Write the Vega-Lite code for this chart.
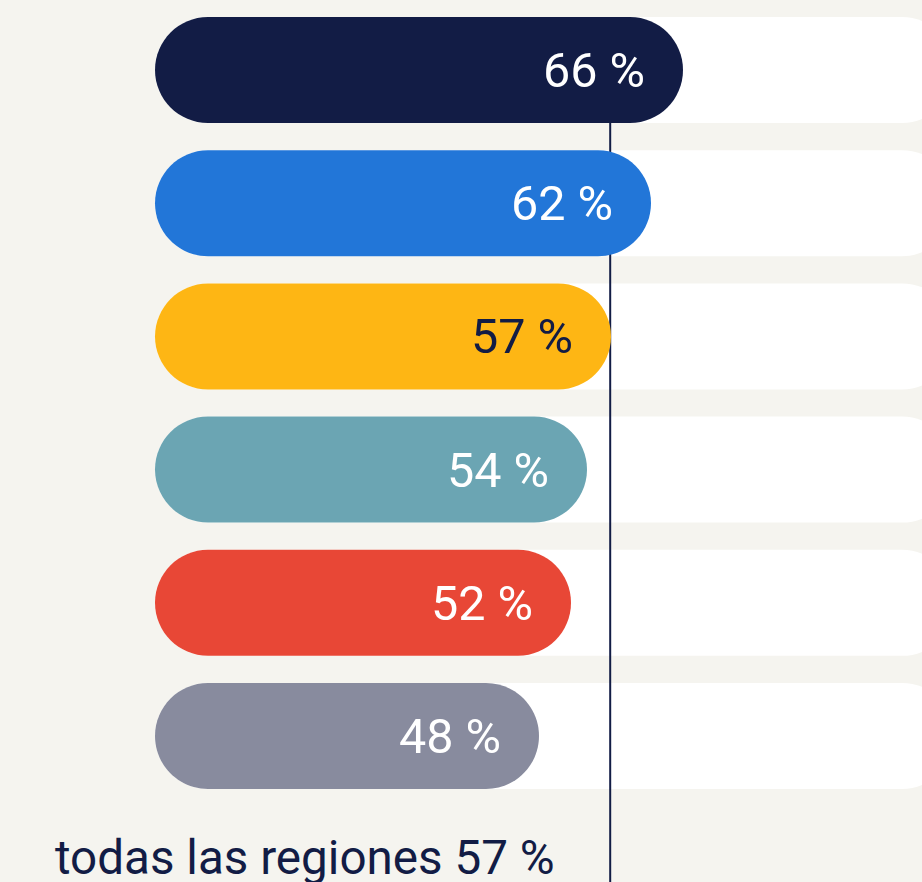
{
  "$schema": "https://vega.github.io/schema/vega-lite/v6.json",
  "width": 767,
  "height": 882,
  "autosize": {"type": "none"},
  "padding": {"left": 155, "top": 0, "right": 0, "bottom": 0},
  "background": "#f5f4ef",
  "config": {"view": {"stroke": null}},
  "title": {
    "text": "todas las regiones 57 %",
    "orient": "bottom",
    "anchor": "start",
    "frame": "group",
    "dx": -100,
    "offset": -9,
    "baseline": "alphabetic",
    "font": "Roboto",
    "fontSize": 47.6,
    "fontWeight": 400,
    "color": "#121c45"
  },
  "datasets": {
    "regiones": [
      {"region": "A", "valor": 66, "etiqueta": "66 %", "maximo": 100},
      {"region": "B", "valor": 62, "etiqueta": "62 %", "maximo": 100},
      {"region": "C", "valor": 57, "etiqueta": "57 %", "maximo": 100},
      {"region": "D", "valor": 54, "etiqueta": "54 %", "maximo": 100},
      {"region": "E", "valor": 52, "etiqueta": "52 %", "maximo": 100},
      {"region": "F", "valor": 48, "etiqueta": "48 %", "maximo": 100}
    ],
    "promedio": [{"valor": 56.9, "region": "A"}]
  },
  "data": {"name": "regiones"},
  "layer": [
    {
      "mark": {"type": "bar", "color": "#ffffff", "cornerRadius": 53, "clip": true},
      "encoding": {
        "y": {
          "field": "region",
          "type": "nominal",
          "sort": null,
          "axis": null,
          "scale": {"domain": ["A", "B", "C", "D", "E", "F"], "paddingInner": 0.204, "paddingOuter": 0.413, "align": 0.1545}
        },
        "x": {"field": "maximo", "type": "quantitative", "stack": null, "scale": {"domain": [0, 95.875], "zero": false, "nice": false}, "axis": null}
      }
    },
    {
      "data": {"name": "promedio"},
      "mark": {"type": "rule", "color": "#121c45", "strokeWidth": 2},
      "encoding": {
        "x": {"field": "valor", "type": "quantitative"},
        "y": {"field": "region", "type": "nominal", "bandPosition": 0},
        "y2": {"value": {"expr": "height"}}
      }
    },
    {
      "mark": {"type": "bar", "cornerRadius": 53},
      "encoding": {
        "y": {"field": "region", "type": "nominal"},
        "x": {"field": "valor", "type": "quantitative", "stack": null},
        "color": {
          "field": "region",
          "type": "nominal",
          "legend": null,
          "scale": {
            "domain": ["A", "B", "C", "D", "E", "F"],
            "range": ["#121c45", "#2276d8", "#feb614", "#6ba5b3", "#e84736", "#888b9e"]
          }
        }
      }
    },
    {
      "mark": {"type": "text", "align": "right", "baseline": "middle", "dx": -38, "dy": 2, "font": "Roboto", "fontSize": 48.5, "fontWeight": 400},
      "encoding": {
        "y": {"field": "region", "type": "nominal"},
        "x": {"field": "valor", "type": "quantitative"},
        "text": {"field": "etiqueta"},
        "color": {
          "condition": {"test": "datum.region === 'C'", "value": "#121c45"},
          "value": "#ffffff"
        }
      }
    }
  ]
}
